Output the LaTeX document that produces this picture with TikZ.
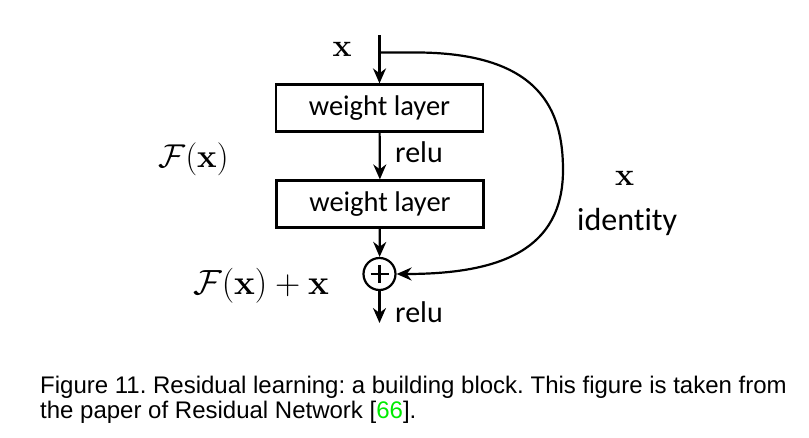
\RequirePackage{fix-cm}
\documentclass[tikz,border=0pt]{standalone}
\usepackage[no-math]{fontspec}
\usepackage{amsmath}
\usetikzlibrary{arrows.meta}
\setmainfont{Liberation Sans}
\newfontfamily\calib[Ligatures=NoCommon]{Carlito}
\definecolor{refgreen}{RGB}{0,235,0}
\frenchspacing
\begin{document}
\begin{tikzpicture}[x=1pt,y=-1pt,
  wl/.style={draw,line width=2.2pt,minimum width=207pt,minimum height=47pt,inner sep=0pt,font=\calib\fontsize{28.5}{30}\selectfont},
  conn/.style={line width=2.2pt,-{Stealth[length=15pt,width=13pt]}},
  lbl/.style={font=\calib\fontsize{30}{32}\selectfont,inner sep=0pt,anchor=base west},
  mth/.style={inner sep=0pt},
  captxt/.style={font=\fontsize{24}{28}\selectfont,inner sep=0pt,anchor=base west}]
\useasboundingbox (0,0) rectangle (809,437);
\coordinate (top) at (379.5,35);
\coordinate (split) at (379.5,52.5);
\node[wl] (b1) at (379.5,108) {weight layer};
\node[wl] (b2) at (380,204) {weight layer};
\node[draw,circle,line width=2.2pt,minimum size=32pt,inner sep=0pt] (add) at (379.5,274) {};
\draw[line width=2.4pt] ([yshift=-9pt]add.center) -- ([yshift=9pt]add.center)
  ([xshift=-9pt]add.center) -- ([xshift=9pt]add.center);
\coordinate (out) at (379.5,323);
\draw[conn] (top) -- (b1);
\draw[conn] (b1) -- (b2);
\draw[conn] (b2) -- (add);
\draw[conn] (add) -- (out);
\draw[conn] (split) -- (420,52.5) .. controls (540,54) and (563,110) .. (563,170)
  .. controls (563,250) and (500,274) .. (add.east);
\node[lbl] (r1) at (395,162) {relu};
\node[lbl] (r2) at (395,322) {relu};
\node[mth,font=\fontsize{32}{34}\selectfont] (xin) at (342,49) {$\mathbf{x}$};
\node[mth,font=\fontsize{33}{35}\selectfont,anchor=base] (fx) at (193.5,167) {$\mathcal{F}(\mathbf{x})$};
\node[mth,font=\fontsize{35}{37}\selectfont,anchor=base] (fxx) at (261,294) {$\mathcal{F}(\mathbf{x})+\mathbf{x}$};
\node[mth,font=\fontsize{32}{34}\selectfont] (xid) at (624.5,178) {$\mathbf{x}$};
\node[lbl,font=\calib\fontsize{32}{34}\selectfont] (idt) at (577,230) {identity};
\node[captxt] (c1) at (40,393.3) {Figure 11. Residual learning: a building block. This figure is taken from};
\node[captxt] (c2) at (40,418.3) {the paper of Residual Network [{\color{refgreen}66}].};
\end{tikzpicture}
\end{document}
